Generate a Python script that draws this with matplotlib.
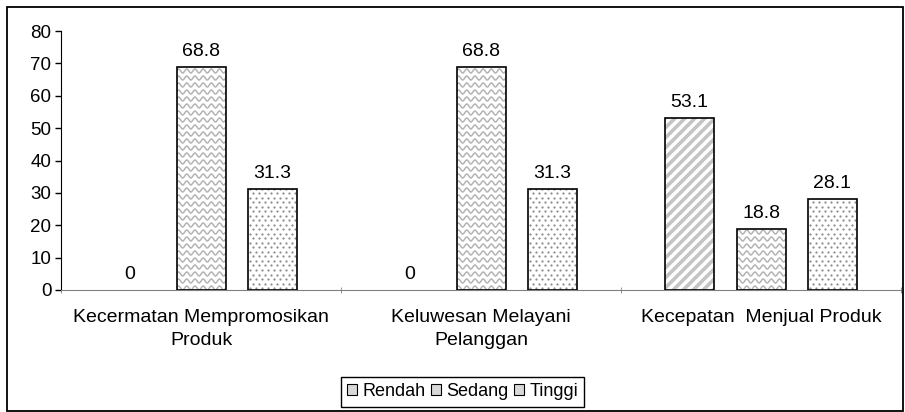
import numpy as np
import matplotlib
matplotlib.use("Agg")
import matplotlib.pyplot as plt
from matplotlib.lines import Line2D
from matplotlib.patches import Patch, Rectangle
from matplotlib.transforms import IdentityTransform

plt.rcParams['font.family'] = ['Liberation Sans', 'DejaVu Sans']
plt.rcParams['font.size'] = 14

categories = ["Kecermatan Mempromosikan\nProduk", "Keluwesan Melayani\nPelanggan",
              "Kecepatan  Menjual Produk"]
series = ["Rendah", "Sedang", "Tinggi"]
rendah = [0, 0, 53.1]
sedang = [68.8, 68.8, 18.8]
tinggi = [31.3, 31.3, 28.1]
yticks = [0, 10, 20, 30, 40, 50, 60, 70, 80]

fig = plt.figure(figsize=(9.05, 4.12), dpi=100)
ax = fig.add_axes([61 / 905, 122 / 412, 840 / 905, 259 / 412])
ax.set_xlim(-0.5, 2.5)
ax.set_ylim(0, 80)

# outer frame round the whole chart
fig.patches.append(Rectangle((7 / 905, 1 / 412), 896 / 905, 404 / 412, transform=fig.transFigure,
                             fill=False, edgecolor='black', linewidth=1.3))

x = np.arange(len(categories))
offset = 0.255
width = 0.175


def pix(bar):
    return ax.transData.transform([(bar.get_x(), 0), (bar.get_x() + bar.get_width(), bar.get_height())])


def add_clipped(art, bar):
    ax.add_artist(art)
    art.set_clip_path(bar)   # after add_artist, else it gets the axes clip


def stripes(bar):
    (x0, y0), (x1, y1) = pix(bar)
    h = y1 - y0
    for c in np.arange(x0 - h, x1 + 10, 10):
        add_clipped(Line2D([c, c + h], [y0, y1], transform=IdentityTransform(), color='#c4c4c4',
                           linewidth=2.6, zorder=2), bar)


def waves(bar):
    (x0, y0), (x1, y1) = pix(bar)
    xs = np.arange(x0 - 2, x1 + 2, 0.4)
    for yy in np.arange(y0 + 2, y1 + 4, 7):
        ys = yy + 2.0 * np.sin(2 * np.pi * (xs - x0) / 8.2)
        add_clipped(Line2D(xs, ys, transform=IdentityTransform(), color='#b4b4b4',
                           linewidth=1.1, zorder=2), bar)


def dots(bar):
    (x0, y0), (x1, y1) = pix(bar)
    px, py = [], []
    for i, yy in enumerate(np.arange(y0 + 2, y1, 4.5)):
        for xx in np.arange(x0 + 2 + (i % 2) * 3, x1, 6):
            px.append(xx)
            py.append(yy)
    add_clipped(Line2D(px, py, transform=IdentityTransform(), linestyle='none', marker='o',
                       markersize=1.6, markeredgewidth=0, color='#8c8c8c', zorder=2), bar)


fills = [stripes, waves, dots]
for k, vals in enumerate([rendah, sedang, tinggi]):
    pos = x + (k - 1) * offset
    bars = ax.bar(pos, vals, width, facecolor='white', edgecolor='none', zorder=1)
    ax.bar(pos, vals, width, fill=False, edgecolor='black', zorder=3,
           linewidth=[1.2 if v > 0 else 0 for v in vals])
    for b, v in zip(bars, vals):
        if v > 0:
            fills[k](b)
        ax.annotate(f"{v:g}", (b.get_x() + b.get_width() / 2, v), xytext=(0, 5),
                    textcoords='offset points', ha='center', va='bottom', fontsize=14)

ax.spines['top'].set_visible(False)
ax.spines['right'].set_visible(False)
ax.spines['bottom'].set_color('#808080')
ax.spines['left'].set_color('black')
ax.set_yticks(yticks)
ax.tick_params(axis='y', length=4, width=1, pad=3, labelsize=13.5)
ax.set_xticks(x)
ax.set_xticklabels(categories, linespacing=1.47)
ax.tick_params(axis='x', which='major', length=0, pad=13.5, labelsize=14)
ax.set_xticks([-0.5, 0.5, 1.5, 2.5], minor=True)
ax.tick_params(axis='x', which='minor', length=5, color='#808080', direction='inout')

handles = [Patch(facecolor='#d8d8d8', edgecolor='black', linewidth=0.8) for _ in series]
fig.legend(handles, series, loc='lower center', bbox_to_anchor=(0.511, 0.0), ncol=3,
           fancybox=False, edgecolor='black', framealpha=1, handlelength=0.55, handleheight=0.55,
           handletextpad=0.3, columnspacing=0.3, borderpad=0.35, borderaxespad=0.3, fontsize=13)

fig.savefig("out.png", dpi=100)
